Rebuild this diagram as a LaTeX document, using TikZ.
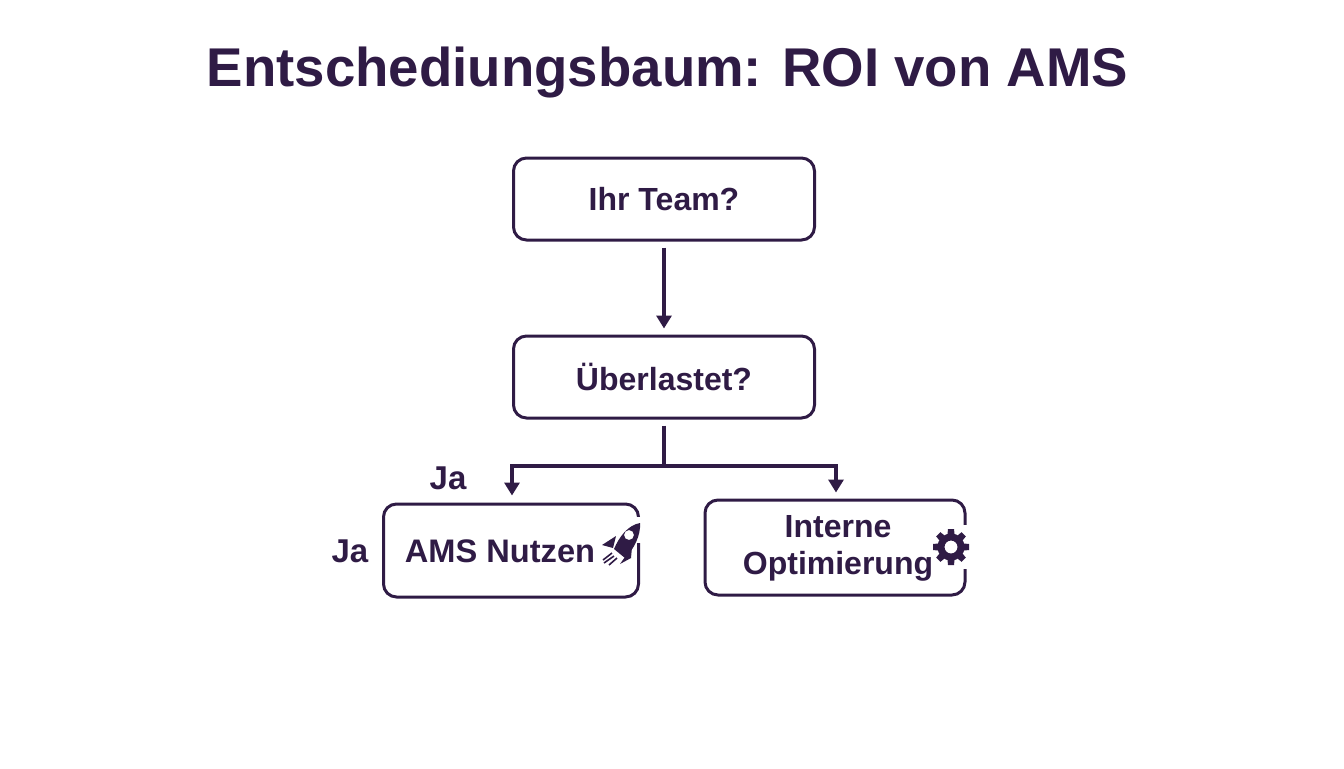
\documentclass[tikz,border=0pt]{standalone}
\usepackage{fontspec}
\usepackage{xcolor}
\setmainfont{Liberation Sans}
\usetikzlibrary{positioning,arrows.meta}
\definecolor{darkplum}{HTML}{2F1B45}
\tikzset{
  box/.style={draw=darkplum, line width=1.5pt, rounded corners=6.5pt, inner sep=0pt, align=center, text=darkplum, font=\fontsize{16}{19.5}\selectfont\bfseries},
  label/.style={text=darkplum, inner sep=0pt, font=\fontsize{16.5}{20}\selectfont\bfseries},
  link/.style={draw=darkplum, line width=1.6pt, -{Triangle[length=6.5pt,width=7.5pt]}},
  rocket/.pic={
    \fill[white] (10,-28) rectangle (22,-2);
    \fill[darkplum,even odd rule] (18,-22) .. controls (19,-10) and (12,4) .. (3,13) -- (-8,4) .. controls (-3,-8) and (6,-20) .. (18,-22) (7,-10) circle (5);
    \fill[darkplum] (-20,0) -- (-6,-9) -- (-9,3) -- cycle;
    \fill[darkplum] (-2,19) -- (10,2) -- (9,13) -- cycle;
    \draw[darkplum,line width=.8pt] (-10,8) -- (-19,15) (-8,11) -- (-18,18) (-5,13) -- (-13,20);
  },
  gear/.pic={
    \fill[white] (5,-22) rectangle (22,22);
    \foreach \a in {0,45,...,315}
      \fill[darkplum,rotate=\a] (-3.8,-10) -- (3.8,-10) -- (3,-18) -- (-3,-18) -- cycle;
    \fill[darkplum,even odd rule] (0,0) circle (13.5) (0,0) circle (6.5);
  },
}
\begin{document}
\begin{tikzpicture}[x=.5pt,y=-.5pt]
  \useasboundingbox (0,0) rectangle (1344,768);
  \node[text=darkplum, font=\fontsize{27.3}{33}\selectfont\bfseries] (title) at (667.5,72) {Entschediungsbaum: ROI von AMS};
  \node[box, minimum width=150.5pt, minimum height=41pt] (team) at (664,199) {Ihr Team?};
  \node[box, minimum width=150.5pt, minimum height=41pt] (load) at (664,377) {Überlastet?};
  \node[box, minimum width=127.5pt, minimum height=46.5pt] (ams) at (511,550.5) {};
  \node[box, minimum width=130pt, minimum height=47.5pt] (intern) at (835,547.5) {};
  \pic at (622,545) {rocket};
  \pic at (951,547) {gear};
  \node[text=darkplum, font=\fontsize{16.3}{19.5}\selectfont\bfseries] (amstext) at (500,551) {AMS Nutzen};
  \node[text=darkplum, align=center, font=\fontsize{16}{18.5}\selectfont\bfseries] (interntext) at (838,548) {Interne\\Optimierung};
  \node[label] (jatop) at (448,478) {Ja};
  \node[label] (jaside) at (350,551) {Ja};
  \draw[link] ([yshift=-3pt]team.south) -- ([yshift=3pt]load.north);
  \coordinate (fork) at ([yshift=-23pt]load.south);
  \draw[darkplum, line width=1.6pt] ([yshift=-3pt]load.south) -- (fork);
  \draw[link, line width=2pt] (fork) -| ([yshift=3.5pt,xshift=.5pt]ams.north);
  \draw[link, line width=2pt] (fork) -| ([yshift=3pt,xshift=.5pt]intern.north);
\end{tikzpicture}
\end{document}
